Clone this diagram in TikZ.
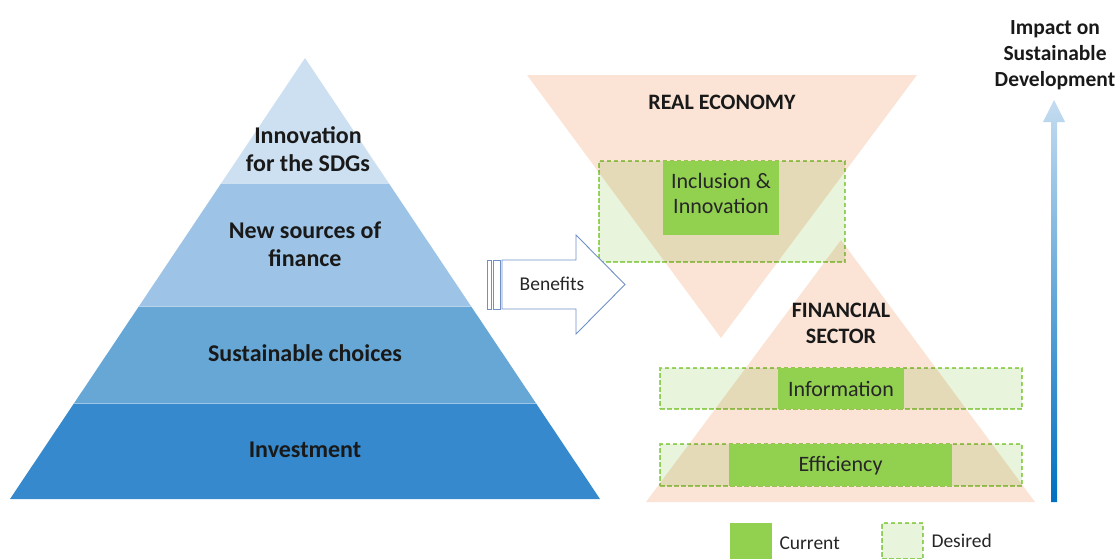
\documentclass[tikz,border=0pt]{standalone}
\usepackage{fontspec}
\setmainfont{Carlito}
\usetikzlibrary{calc}
\definecolor{bandA}{HTML}{CCE0F1}
\definecolor{bandB}{HTML}{9DC3E6}
\definecolor{bandC}{HTML}{67A7D6}
\definecolor{bandD}{HTML}{3589CC}
\definecolor{peach}{HTML}{FBE4D6}
\definecolor{curgreen}{HTML}{92D050}
\definecolor{dashgreen}{HTML}{9ED766}
\definecolor{desgreen}{HTML}{E9F4DC}
\definecolor{arrowline}{HTML}{7090C8}
\definecolor{gradtop}{HTML}{C4DCF0}
\definecolor{gradbot}{HTML}{0070C0}
\tikzset{
  tri/.style={fill=peach},
  desiredbox/.style={draw=dashgreen, dash pattern=on 4.5pt off 2.5pt, line width=1.1pt, fill=desgreen, blend mode=multiply},
  currentbox/.style={fill=curgreen},
  pyrtext/.style={font=\fontsize{24}{28.5}\selectfont\bfseries, align=center, text=black!90},
  headtext/.style={font=\fontsize{22}{26}\selectfont\bfseries, align=center, text=black!90},
  boxtext/.style={font=\fontsize{22}{25}\selectfont, align=center, text=black!85},
  legtext/.style={font=\fontsize{19.5}{22}\selectfont, anchor=west, text=black!85},
  benefit/.style={draw=arrowline, line width=0.9pt, fill=white}
}
\begin{document}
\begin{tikzpicture}[x=1pt,y=-1pt]
\useasboundingbox (0,0) rectangle (1120,558);
% ---------- pyramid ----------
\coordinate (apex) at (305,58);
\coordinate (bl) at (10,499);
\coordinate (br) at (600,499);
\coordinate (l1) at ($(apex)!0.2834!(bl)$);
\coordinate (r1) at ($(apex)!0.2834!(br)$);
\coordinate (l2) at ($(apex)!0.5624!(bl)$);
\coordinate (r2) at ($(apex)!0.5624!(br)$);
\coordinate (l3) at ($(apex)!0.7823!(bl)$);
\coordinate (r3) at ($(apex)!0.7823!(br)$);
\fill[bandD] (l3) -- (r3) -- (br) -- (bl) -- cycle;
\fill[bandC] (l2) -- (r2) -- (r3) -- (l3) -- cycle;
\fill[bandB] (l1) -- (r1) -- (r2) -- (l2) -- cycle;
\fill[bandA] (apex) -- (r1) -- (l1) -- cycle;
\draw[draw=white, line width=0.6pt, opacity=0.5] (l1) -- (r1) (l2) -- (r2) (l3) -- (r3);
\node[pyrtext] (p1) at (308,149) {Innovation\\for the SDGs};
\node[pyrtext] (p2) at (305,244) {New sources of\\finance};
\node[pyrtext] (p3) at (305,353) {Sustainable choices};
\node[pyrtext] (p4) at (305,450) {Investment};
% ---------- triangles ----------
\fill[tri] (527,75) -- (917,75) -- (721,338) -- cycle;
\fill[tri] (841,240) -- (1035,502) -- (646,502) -- cycle;
\node[headtext] (re) at (722,102) {REAL ECONOMY};
\node[headtext] (fs) at (841,323) {FINANCIAL\\SECTOR};
% ---------- boxes ----------
\node[desiredbox, minimum width=246pt, minimum height=101pt, inner sep=0pt] (d1) at (722,211.5) {};
\node[currentbox, minimum width=116pt, minimum height=74pt, inner sep=0pt] (c1) at (721,198) {};
\node[boxtext] (t1) at (721,193.5) {Inclusion \&\\Innovation};
\node[desiredbox, minimum width=362pt, minimum height=41pt, inner sep=0pt] (d2) at (841,388.5) {};
\node[currentbox, minimum width=126pt, minimum height=41pt, inner sep=0pt] (c2) at (841,388.5) {};
\node[boxtext] (t2) at (841,388.5) {Information};
\node[desiredbox, minimum width=362pt, minimum height=42pt, inner sep=0pt] (d3) at (841,465) {};
\node[currentbox, minimum width=223pt, minimum height=42pt, inner sep=0pt] (c3) at (840.5,465) {};
\node[boxtext] (t3) at (840.5,466) {Efficiency};
% ---------- benefits arrow ----------
\draw[benefit] (487,260) rectangle (491,309);
\draw[benefit] (493,260) rectangle (500,309);
\draw[benefit] (502,260) -- (576,260) -- (576,235) -- (625,284.5) -- (576,334) -- (576,309) -- (502,309) -- cycle;
\node[font=\fontsize{19.5}{22}\selectfont, text=black!85] (ben) at (552,284) {Benefits};
% ---------- impact arrow ----------
\shade[top color=gradtop, bottom color=gradbot] (1051,502) -- (1057,502) -- (1057,122) -- (1065,122) -- (1054,100) -- (1043,122) -- (1051,122) -- cycle;
\node[headtext, font=\fontsize{21.5}{26}\selectfont\bfseries] (imp) at (1055,55) {Impact on\\Sustainable\\Development};
% ---------- legend ----------
\node[currentbox, minimum width=42pt, minimum height=36pt, inner sep=0pt] (lc) at (751,541) {};
\node[legtext] (lct) at (776,543) {Current};
\node[desiredbox, minimum width=41pt, minimum height=36pt, inner sep=0pt] (ld) at (902.5,541) {};
\node[legtext] (ldt) at (928,541) {Desired};
\end{tikzpicture}
\end{document}
